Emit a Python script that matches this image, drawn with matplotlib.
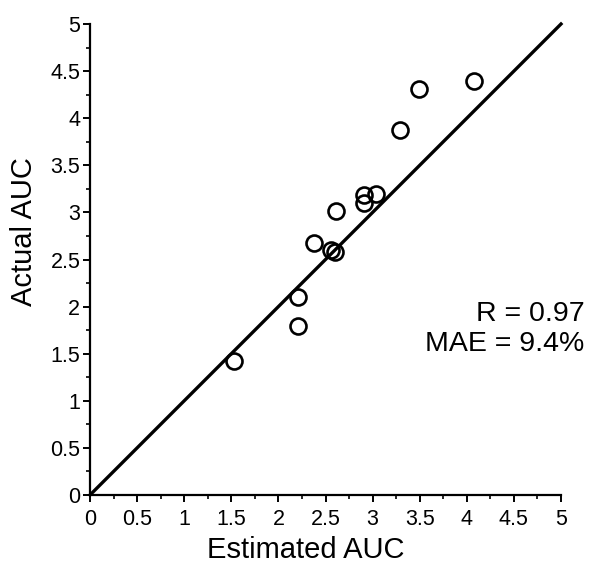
import numpy as np
import matplotlib
matplotlib.use("Agg")
import matplotlib.pyplot as plt
from matplotlib.ticker import MultipleLocator

plt.rcParams['font.family'] = ['Liberation Sans', 'DejaVu Sans']

# estimated vs actual AUC
estimated = [1.53, 2.21, 2.21, 2.38, 2.56, 2.60, 2.61, 2.91, 2.91, 3.04, 3.29, 3.49, 4.08]
actual = [1.42, 1.79, 2.10, 2.68, 2.60, 2.58, 3.01, 3.10, 3.18, 3.20, 3.87, 4.31, 4.39]
r_value = 0.97
mae_pct = 9.4

fig = plt.figure(figsize=(5.93, 5.80), dpi=100)
ax = fig.add_axes([90 / 593, 85 / 580, 471 / 593, 471 / 580])

ax.plot([0, 5], [0, 5], color='black', linewidth=2.4, clip_on=False, zorder=2)
ax.plot(estimated, actual, 'o', markersize=11.5, markerfacecolor='none',
        markeredgecolor='black', markeredgewidth=1.9, zorder=3)

ax.set_xlim(0, 5)
ax.set_ylim(0, 5)
ax.xaxis.set_minor_locator(MultipleLocator(0.25))
ax.yaxis.set_minor_locator(MultipleLocator(0.25))
ticks = np.arange(0, 5.01, 0.5)
labels = ['%g' % t for t in ticks]
ax.set_xticks(ticks, labels)
ax.set_yticks(ticks, labels)

for side in ['top', 'right']:
    ax.spines[side].set_visible(False)
for side in ['left', 'bottom']:
    ax.spines[side].set_linewidth(1.6)

ax.tick_params(which='major', direction='out', length=5, width=1.4, pad=2, labelsize=15.5)
ax.tick_params(axis='x', which='major', pad=5)
ax.tick_params(which='minor', direction='out', length=3, width=1.2)

ax.set_xlabel('Estimated AUC', fontsize=21)
ax.set_ylabel('Actual AUC', fontsize=21)
ax.xaxis.set_label_coords(0.459, -0.087)
ax.yaxis.set_label_coords(-0.11, 0.56)

ax.text(1.05, 0.37, 'R = %.2f' % r_value, transform=ax.transAxes,
        ha='right', va='baseline', fontsize=20.5)
ax.text(1.05, 0.305, 'MAE = %.1f%%' % mae_pct, transform=ax.transAxes,
        ha='right', va='baseline', fontsize=20.5)

fig.savefig('out.png', dpi=100)
